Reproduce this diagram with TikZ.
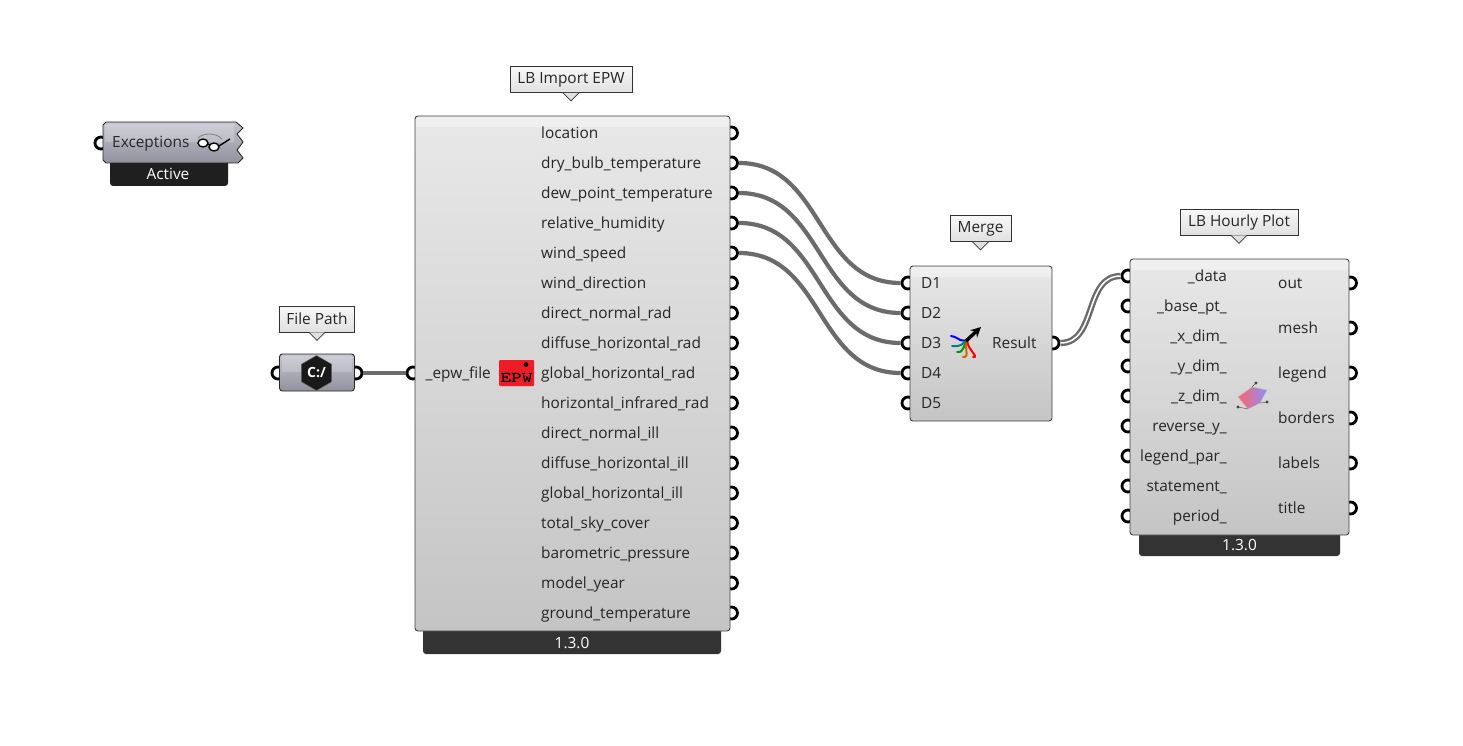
\documentclass[tikz,border=0pt]{standalone}
\usepackage{fontspec}
\setmainfont{Open Sans}
\usetikzlibrary{arrows,shapes.geometric,calc}
\definecolor{paramtop}{HTML}{C4C4D0}
\definecolor{parambot}{HTML}{92929F}
\definecolor{epwred}{HTML}{EE1C25}
\tikzstyle{component}=[rectangle,rounded corners=3pt,draw=black!75,line width=0.9pt,top color=black!9,bottom color=black!23,inner sep=0pt]
\tikzstyle{paramcomp}=[component,draw=black!85,top color=paramtop,bottom color=parambot]
\tikzstyle{footer}=[rectangle,rounded corners=3pt,fill=black!80,text=white,inner sep=0pt]
\tikzstyle{tag}=[rectangle,draw=black!80,line width=0.8pt,top color=black!3,bottom color=black!12,font=\fontsize{15.4}{15.4}\selectfont,text=black!85,inner sep=0pt]
\tikzstyle{tagtip}=[draw=black!80,line width=0.8pt,fill=black!12]
\tikzstyle{port}=[circle,draw=black,line width=2.8pt,fill=white,minimum size=12pt,inner sep=0pt]
\tikzstyle{wire}=[draw=black!58,line width=4.2pt]
\tikzstyle{doublewire}=[draw=black!58,line width=2.4pt,double=white,double distance=1.5pt]
\tikzstyle{param}=[font=\fontsize{15.4}{15.4}\selectfont,text=black!85,inner sep=0pt,text height=11.5pt,text depth=0pt]
\tikzstyle{version}=[text=white,font=\fontsize{15.4}{15.4}\selectfont,inner sep=0pt]
\begin{document}
\begin{tikzpicture}[x=1pt,y=-1pt]
   \useasboundingbox (0,0) rectangle (1463,746);

    % ports go first, the components cover half of them
    \foreach \pos/ \name in {(101,143)/excin,(278,373)/pathin,(356,373)/pathout,(413,373)/epwfile,(1053,343)/result}
        \node[port] (\name) at \pos {};
    \foreach \y/ \name / \label in {133/location/location,163/drybulb/dry\_bulb\_temperature,193/dewpoint/dew\_point\_temperature,223/humidity/relative\_humidity,253/windspeed/wind\_speed,283/winddir/wind\_direction,313/directrad/direct\_normal\_rad,343/diffuserad/diffuse\_horizontal\_rad,373/globalrad/global\_horizontal\_rad,403/infrared/horizontal\_infrared\_rad,433/directill/direct\_normal\_ill,463/diffuseill/diffuse\_horizontal\_ill,493/globalill/global\_horizontal\_ill,523/skycover/total\_sky\_cover,553/pressure/barometric\_pressure,583/modelyear/model\_year,613/groundtemp/ground\_temperature}
        \node[port] (\name) at (731.5,\y) {};
    \foreach \y/ \name in {283/d1,313/d2,343/d3,373/d4,403/d5}
        \node[port] (\name) at (908,\y) {};
    \foreach \y/ \name in {276/data,306/basept,336/xdim,366/ydim,396/zdim,426/reversey,456/legendpar,486/statement,516/period}
        \node[port] (\name) at (1128,\y) {};
    \foreach \y/ \name in {283/out,328/mesh,373/legend,418/borders,463/labels,508/title}
        \node[port] (\name) at (1350.5,\y) {};

    % footers
    \node[footer,minimum width=298pt,minimum height=28pt] (epwfoot) at (572,640) {};
    \node[footer,minimum width=201pt,minimum height=28pt] (plotfoot) at (1239.5,542) {};
    \node[footer,fill=black!88,minimum width=118pt,minimum height=30pt] (excfoot) at (169,171) {};
    \node[version] (epwver) at (572,643) {1.3.0};
    \node[version] (plotver) at (1239.5,545) {1.3.0};
    \node[version] (excstate) at (168,174) {Active};

    % components
    \node[component,minimum width=315pt,minimum height=515pt] (epw) at (572.5,373.5) {};
    \node[component,minimum width=142pt,minimum height=155pt] (merge) at (981,343.5) {};
    \node[component,minimum width=219pt,minimum height=276pt] (plot) at (1239.5,397) {};
    \node[paramcomp,minimum width=75pt,minimum height=37pt] (filepath) at (317,372.5) {};
    \shade[paramcomp,rounded corners=0pt] (103,125) -- (106,122) -- (236,122) -- (243,128) -- (237,134) -- (243,142) -- (237,150) -- (243,158) -- (238,163) -- (106,163) -- (103,160) -- cycle;

    % highlight along the top
    \foreach \xa/ \xb/ \ya in {416/729/117,911/1051/267,1131/1348/260}
        \fill[white,opacity=0.35,rounded corners=2pt] (\xa,\ya) rectangle (\xb,\ya+10);
    \fill[white,opacity=0.2] (282,356) rectangle (352,372);
    \fill[white,opacity=0.2] (105,124) rectangle (234,142);

    % tags
    \foreach \pos/ \name / \w / \label in {{(571,79.5)/epwtag/122/LB Import EPW},{(317,319)/pathtag/75/File Path},{(980.5,228.5)/mergetag/61/Merge},{(1239,222)/plottag/118/LB Hourly Plot}} {
        \node[tag,minimum width=\w pt,minimum height=26pt] (\name) at \pos {\label};
        \draw[tagtip] ([xshift=-8pt]\name.south) -- ([yshift=-8pt]\name.south) -- ([xshift=8pt]\name.south);
    }

    % labels on the right of the big component
    \foreach \y/ \name / \label in {133/location/location,163/drybulb/dry\_bulb\_temperature,193/dewpoint/dew\_point\_temperature,223/humidity/relative\_humidity,253/windspeed/wind\_speed,283/winddir/wind\_direction,313/directrad/direct\_normal\_rad,343/diffuserad/diffuse\_horizontal\_rad,373/globalrad/global\_horizontal\_rad,403/infrared/horizontal\_infrared\_rad,433/directill/direct\_normal\_ill,463/diffuseill/diffuse\_horizontal\_ill,493/globalill/global\_horizontal\_ill,523/skycover/total\_sky\_cover,553/pressure/barometric\_pressure,583/modelyear/model\_year,613/groundtemp/ground\_temperature}
        \node[param,anchor=west] (\name text) at (541,\y) {\label};
    \node[param,anchor=east] (epwfile text) at (491,373) {\_epw\_file};
    \node[param,anchor=west] (exctext) at (112,142) {Exceptions};

    \foreach \y/ \name / \label in {283/d1/D1,313/d2/D2,343/d3/D3,373/d4/D4,403/d5/D5}
        \node[param,anchor=west] (\name text) at (921,\y) {\label};
    \node[param,anchor=west] (result text) at (992,343) {Result};

    \foreach \y/ \name / \label in {276/data/\_data,306/basept/\_base\_pt\_,336/xdim/\_x\_dim\_,366/ydim/\_y\_dim\_,396/zdim/\_z\_dim\_,426/reversey/reverse\_y\_,456/legendpar/legend\_par\_,486/statement/statement\_,516/period/period\_}
        \node[param,anchor=east] (\name text) at (1227,\y) {\label};
    \foreach \y/ \name / \label in {283/out/out,328/mesh/mesh,373/legend/legend,418/borders/borders,463/labels/labels,508/title/title}
        \node[param,anchor=west] (\name text) at (1278,\y) {\label};

    % Connect ports with wires
    \draw[wire] (pathout.east) -- (epwfile.west);
    \foreach \source/ \dest in {drybulb/d1,dewpoint/d2,humidity/d3,windspeed/d4}
        \draw[wire] (\source.east) .. controls +(85,0) and +(-85,0) .. (\dest.west);
    \draw[doublewire] (result.east) .. controls +(37,0) and +(-37,0) .. (data.west);

    % icons
    \node[regular polygon,regular polygon sides=6,shape border rotate=30,fill=black!90,draw=black!60,minimum size=35pt,inner sep=0pt,text=white,font=\bfseries\fontsize{14}{14}\selectfont] (pathicon) at (316.5,373) {C:/};

    \node[rectangle,fill=epwred,minimum width=35pt,minimum height=26pt,rounded corners=1pt,inner sep=0pt] (epwicon) at (516.5,373) {};
    \node[inner sep=0pt,font=\ttfamily\bfseries\fontsize{15}{15}\selectfont] (epwiconText) at (516.5,378) {\scalebox{1.35}[1]{EPW}};
    \fill (526,364.5) circle (2.3);

    \foreach \col/ \xa/ \ya in {blue/951/336,teal/952/346,green!60!black/957/352,orange!80!black/963/357,red/973/357}
        \draw[\col,line width=2pt,line cap=round] (\xa,\ya) .. controls (\xa+8,\ya+1) and (962,345) .. (969,338);
    \draw[black,line width=3.4pt,-stealth] (966,341) -- (981,327);

    \shade[left color=red!60,right color=blue!45,draw=black!25] (1238,397) -- (1252,387) -- (1267,390) -- (1260,403) -- (1248,409) -- cycle;
    \foreach \xa/ \ya/ \xb/ \yb in {1252/387/1256/383,1260/403/1267/402,1248/409/1238/407}
        \draw[black!70] (\xa,\ya) -- (\xb,\yb);
    \foreach \pos in {(1256,383),(1267,402),(1238,407)}
        \fill[black!75] \pos circle (1.6);

    \draw[black!50,line width=0.8pt] (198,138) .. controls (203,133) and (215,132) .. (222,139);
    \draw[black,line width=1.4pt,fill=white] (203,143) ellipse (5 and 4);
    \draw[black,line width=1.4pt,fill=white] (214,147) ellipse (5 and 4);
    \draw[black,line width=1.2pt] (208,144) -- (210,145);
    \draw[black,line width=1.4pt] (219,146) -- (230,139);
\end{tikzpicture}
\end{document}
